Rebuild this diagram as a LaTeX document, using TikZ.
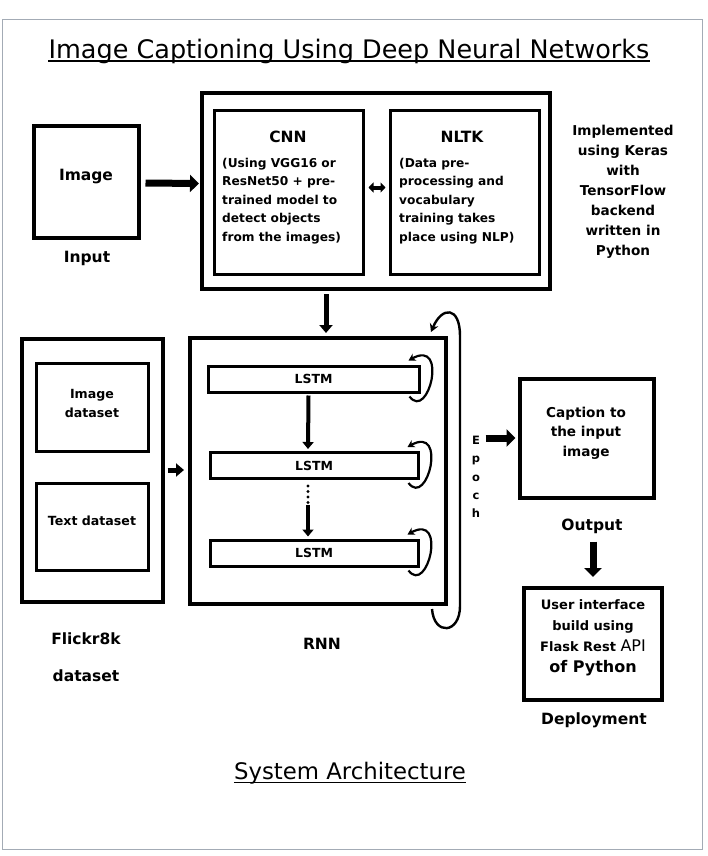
\documentclass[tikz,border=0pt]{standalone}
\usepackage{fontspec}
\setmainfont{DejaVu Sans}
\usetikzlibrary{arrows.meta,calc}
\definecolor{framegray}{HTML}{A3ABB5}
\begin{document}
\begin{tikzpicture}[x=1pt,y=-1pt,
  pageframe/.style={draw=framegray, line width=1.5pt, inner sep=0pt, minimum width=700pt, minimum height=830pt},
  heavybox/.style={draw, line width=4pt, inner sep=0pt},
  lightbox/.style={draw, line width=3pt, inner sep=0pt},
  lstmbar/.style={draw, line width=3pt, inner sep=0pt, minimum height=26pt, font=\bfseries\fontsize{12.5}{14}\selectfont},
  txt/.style={inner sep=0pt, align=center},
  lbl/.style={txt, font=\bfseries\fontsize{15.5}{18}\selectfont},
  body/.style={inner sep=0pt, font=\bfseries\fontsize{12.2}{18.6}\selectfont},
  mid/.style={txt, font=\bfseries\fontsize{13.6}{20}\selectfont},
  heading/.style={inner sep=0pt, font=\fontsize{#1}{#1}\selectfont},
  bigarrow/.style={line width=7pt, -{Triangle[length=9pt,width=17pt]}},
  midarrow/.style={line width=5pt, -{Triangle[length=8pt,width=13pt]}},
  smallarrow/.style={line width=4pt, -{Triangle[length=7pt,width=11pt]}},
  dblarrow/.style={line width=4pt, {Triangle[length=5pt,width=10pt]}-{Triangle[length=5pt,width=10pt]}},
  loopline/.style={line width=2.2pt, -{Stealth[length=7pt,width=8pt]}},
  epochline/.style={line width=2.4pt, -{Stealth[length=8pt,width=9pt]}},
  dotline/.style={line width=3.2pt, line cap=round, dash pattern=on 0pt off 5.5pt},
  underl/.style={line width=1.4pt}
]
\useasboundingbox (0,0) rectangle (708,856);
\node[pageframe] (page) at (352.5,434.5) {};

% title
\node[heading=25.5] (title) at (349,51) {Image Captioning Using Deep Neural Networks};
\draw[underl] ($(title.base west)+(0,3)$) -- ($(title.base east)+(0,3)$);

% input
\node[heavybox, minimum width=105pt, minimum height=111pt] (img) at (86,182) {};
\node[lbl] (imgT) at (86,177) {Image};
\node[lbl] (inputL) at (87,258) {Input};

% CNN / NLTK container
\node[heavybox, minimum width=348pt, minimum height=196pt] (outer) at (376,191) {};
\node[lightbox, minimum width=149pt, minimum height=163pt] (cnn) at (288.5,192.5) {};
\node[lightbox, minimum width=149pt, minimum height=163pt] (nltk) at (464.5,192.5) {};
\node[lbl] (cnnT) at (288,137) {CNN};
\node[lbl] (nltkT) at (462,137) {NLTK};
\node[body, align=left, anchor=west] (cnnB) at (222,201) {(Using VGG16 or\\ResNet50 + pre-\\trained model to\\detect objects\\from the images)};
\node[body, align=left, anchor=west] (nltkB) at (399,201) {(Data pre-\\processing and\\vocabulary\\training takes\\place using NLP)};

\node[mid] (impl) at (623,192) {Implemented\\using Keras\\with\\TensorFlow\\backend\\written in\\Python};

\draw[bigarrow] ($(img.east)+(5,1)$) -- ($(outer.west)+(-1,-7.5)$);
\draw[dblarrow] ($(cnn.east)+(4,-5)$) -- ($(nltk.west)+(-3,-5)$);

% Flickr
\node[heavybox, minimum width=141pt, minimum height=263pt] (flickr) at (92,470) {};
\node[lightbox, minimum width=112pt, minimum height=88pt] (imgds) at (92,407) {};
\node[lightbox, minimum width=112pt, minimum height=87pt] (txtds) at (92,526.5) {};
\node[mid, font=\bfseries\fontsize{12.6}{19}\selectfont] (imgdsT) at (92,403) {Image\\dataset};
\node[mid, font=\bfseries\fontsize{12.6}{19}\selectfont] (txtdsT) at (92,521) {Text dataset};
\node[lbl, font=\bfseries\fontsize{15.5}{37}\selectfont] (flickrL) at (86,657) {Flickr8k\\dataset};

% RNN
\node[heavybox, minimum width=256pt, minimum height=266pt] (rnn) at (318,471) {};
\node[lstmbar, minimum width=211pt] (lstm1) at (313.5,379) {LSTM};
\node[lstmbar, minimum width=208pt] (lstm2) at (314,465.5) {LSTM};
\node[lstmbar, minimum width=208pt] (lstm3) at (314,553) {LSTM};
\node[lbl] (rnnL) at (322,644) {RNN};

\draw[midarrow] ($(outer.south)+(-50,3)$) -- ($(rnn.north)+(8,-3)$);
\draw[midarrow] ($(flickr.east)+(3,0)$) -- ($(rnn.west)+(-4,-1)$);
\draw[smallarrow] ($(lstm1.south)+(-5,2)$) -- ($(lstm2.north)+(-6,-2)$);
\draw[dotline] ($(lstm2.south)+(-6,6)$) -- ($(lstm2.south)+(-6,23)$);
\draw[smallarrow] ($(lstm2.south)+(-6,25)$) -- ($(lstm3.north)+(-6,-2)$);

\foreach \b in {lstm1,lstm2,lstm3}{
  \draw[loopline] ($(\b.south east)+(-11,3)$) .. controls ($(\b.south east)+(8,28)$) and ($(\b.north east)+(28,-26)$) .. ($(\b.north east)+(-12,-4)$);
}

% epoch loop
\draw[epochline] ($(rnn.south east)+(-16,3)$) .. controls ($(rnn.south east)+(-14,30)$) and ($(rnn.south east)+(12,28)$) .. ($(rnn.south east)+(12,0)$) -- ($(rnn.north east)+(12,0)$) .. controls ($(rnn.north east)+(12,-30)$) and ($(rnn.north east)+(-6,-30)$) .. ($(rnn.north east)+(-17,-4)$);
\node[txt, font=\bfseries\fontsize{11.5}{18.2}\selectfont] (epoch) at (476,477) {E\\p\\o\\c\\h};

% output
\node[heavybox, minimum width=134pt, minimum height=119pt] (caption) at (586.5,438) {};
\node[mid, font=\bfseries\fontsize{13.6}{19.5}\selectfont] (captionT) at (586,433) {Caption to\\the input\\image};
\node[lbl] (outputL) at (592,526) {Output};
\draw[bigarrow] ($(caption.west)+(-32,0)$) -- ($(caption.west)+(-2,0)$);

% deployment
\node[heavybox, minimum width=138pt, minimum height=112pt] (deploy) at (593,644) {};
\node[txt, font=\bfseries\fontsize{13}{21}\selectfont] (deployT) at (593,638) {User interface\\build using\\Flask Rest {\mdseries\fontsize{16}{21}\selectfont API}\\{\fontsize{16}{21}\selectfont of Python}};
\node[lbl] (deployL) at (594,720) {Deployment};
\draw[bigarrow] ($(outputL.south)+(1,8)$) -- ($(deploy.north)+(0,-9)$);

% footer
\node[heading=22.8] (sysarch) at (350,773) {System Architecture};
\draw[underl] ($(sysarch.base west)+(0,3.5)$) -- ($(sysarch.base east)+(0,3.5)$);
\end{tikzpicture}
\end{document}
